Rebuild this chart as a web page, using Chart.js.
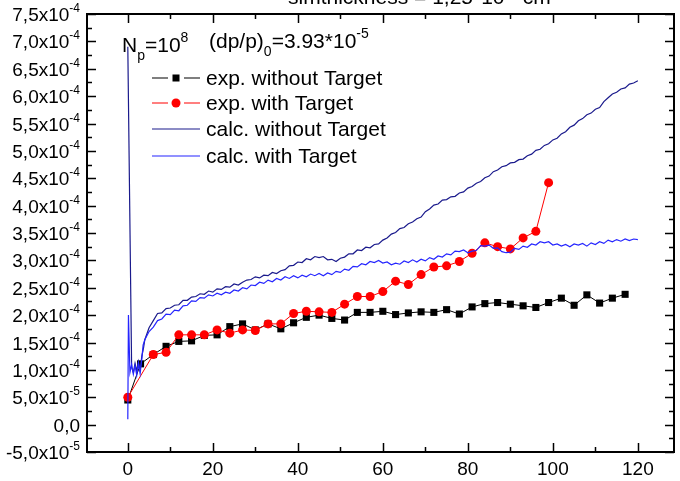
<!DOCTYPE html>
<html>
<head>
<meta charset="utf-8">
<script src="https://cdn.jsdelivr.net/npm/chart.js@4.4.0/dist/chart.umd.min.js"></script>
<style>
  html, body { margin: 0; padding: 0; background: #fff; }
  #wrap { width: 680px; height: 481px; }
</style>
</head>
<body>
<div id="wrap"><canvas id="beamChart" width="680" height="481"></canvas></div>
<script>
// measured points, every 3 units
const expNoTargetX = [0, 3, 6, 9, 12, 15, 18, 21, 24, 27, 30, 33, 36, 39, 42, 45, 48, 51, 54, 57,
  60, 63, 66, 69, 72, 75, 78, 81, 84, 87, 90, 93, 96, 99, 102, 105, 108, 111, 114, 117];
const expNoTargetY = [4.5e-5, 1.11e-4, 1.28e-4, 1.43e-4, 1.52e-4, 1.53e-4, 1.63e-4, 1.64e-4, 1.79e-4, 1.84e-4,
  1.73e-4, 1.84e-4, 1.75e-4, 1.86e-4, 1.96e-4, 2.00e-4, 1.94e-4, 1.91e-4, 2.05e-4, 2.05e-4,
  2.07e-4, 2.01e-4, 2.04e-4, 2.06e-4, 2.05e-4, 2.10e-4, 2.02e-4, 2.15e-4, 2.21e-4, 2.23e-4,
  2.20e-4, 2.17e-4, 2.14e-4, 2.23e-4, 2.31e-4, 2.18e-4, 2.37e-4, 2.22e-4, 2.31e-4, 2.38e-4];

const expTargetX = [0, 6, 9, 12, 15, 18, 21, 24, 27, 30, 33, 36, 39, 42, 45, 48, 51, 54, 57,
  60, 63, 66, 69, 72, 75, 78, 81, 84, 87, 90, 93, 96, 99];
const expTargetY = [5.0e-5, 1.28e-4, 1.32e-4, 1.64e-4, 1.64e-4, 1.64e-4, 1.73e-4, 1.67e-4, 1.73e-4, 1.72e-4,
  1.84e-4, 1.84e-4, 2.03e-4, 2.07e-4, 2.06e-4, 2.05e-4, 2.20e-4, 2.34e-4, 2.34e-4,
  2.43e-4, 2.62e-4, 2.56e-4, 2.74e-4, 2.88e-4, 2.90e-4, 2.98e-4, 3.13e-4, 3.32e-4, 3.25e-4,
  3.21e-4, 3.41e-4, 3.53e-4, 4.42e-4];

// simulation, in units of 1e-4
const CALC_UNIT = 1e-4;
// first few turns (injection spike and settling)
const calcNoTargetStartX = [0, 0.9, 1.3, 1.7, 2.1, 2.5, 2.9, 3.3, 3.7];
const calcNoTargetStartY = [6.9, 1.05, 0.95, 1.12, 0.98, 1.15, 1.0, 1.25, 1.40];
const calcTargetStartX = [0, 0.15, 0.5, 0.9, 1.3, 1.7, 2.1, 2.5, 2.9, 3.3, 3.6];
const calcTargetStartY = [0.10, 2.0, 0.95, 1.10, 0.92, 1.08, 0.90, 1.12, 0.93, 1.20, 1.45];
// then one value per unit, x = 4 ... 120
const calcGridX = Array.from({ length: 117 }, (_, i) => 4 + i);
const calcNoTargetY = [
  1.55, 1.77, 1.90, 2.03, 2.04, 2.12, 2.13, 2.18, 2.19, 2.27, 2.27, 2.33, 2.34, 2.39, 2.38, 2.44, 2.42,
  2.48, 2.47, 2.52, 2.51, 2.57, 2.55, 2.60, 2.64, 2.65, 2.70, 2.68, 2.73, 2.72, 2.78, 2.76, 2.81,
  2.83, 2.90, 2.91, 2.97, 2.96, 3.03, 3.01, 3.07, 3.05, 3.07, 3.01, 3.02, 2.98, 3.04, 3.06, 3.12,
  3.12, 3.19, 3.18, 3.24, 3.23, 3.29, 3.30, 3.37, 3.41, 3.48, 3.51, 3.58, 3.60, 3.67, 3.70, 3.76,
  3.79, 3.89, 3.94, 4.01, 4.03, 4.10, 4.11, 4.16, 4.17, 4.23, 4.25, 4.32, 4.35, 4.41, 4.44, 4.51,
  4.54, 4.62, 4.65, 4.71, 4.73, 4.78, 4.79, 4.84, 4.85, 4.91, 4.94, 5.01, 5.03, 5.10, 5.13, 5.20,
  5.23, 5.31, 5.35, 5.43, 5.47, 5.55, 5.59, 5.66, 5.69, 5.76, 5.79, 5.90, 5.97, 6.04, 6.07, 6.13,
  6.15, 6.22, 6.24, 6.28];
const calcTargetY = [
  1.55, 1.70, 1.78, 1.90, 1.93, 2.02, 2.01, 2.09, 2.08, 2.17, 2.18, 2.26, 2.25, 2.32, 2.31, 2.37, 2.35,
  2.40, 2.37, 2.42, 2.40, 2.46, 2.44, 2.50, 2.48, 2.55, 2.54, 2.60, 2.58, 2.64, 2.61, 2.67, 2.64,
  2.70, 2.67, 2.72, 2.68, 2.73, 2.70, 2.75, 2.72, 2.76, 2.72, 2.77, 2.74, 2.80, 2.78, 2.84, 2.82,
  2.89, 2.88, 2.94, 2.92, 2.98, 2.96, 3.00, 2.95, 2.97, 2.92, 2.95, 2.93, 2.99, 2.96, 3.01, 2.97,
  3.02, 2.99, 3.05, 3.02, 3.08, 3.06, 3.12, 3.10, 3.17, 3.16, 3.19, 3.14, 3.17, 3.18, 3.27, 3.26,
  3.28, 3.22, 3.23, 3.16, 3.14, 3.15, 3.22, 3.20, 3.26, 3.24, 3.30, 3.28, 3.34, 3.32, 3.34, 3.28,
  3.30, 3.26, 3.29, 3.25, 3.30, 3.28, 3.31, 3.26, 3.32, 3.29, 3.34, 3.31, 3.37, 3.34, 3.38, 3.35,
  3.39, 3.36, 3.39, 3.38];

const seriesNames = ['exp. without Target', 'exp. with Target', 'calc. without Target', 'calc. with Target'];
const xTicks = [0, 20, 40, 60, 80, 100, 120];

const FONT = '"Liberation Sans", Arial, sans-serif';

function pts(xs, ys, unit) {
  const u = unit || 1;
  return xs.map((x, i) => ({ x: x, y: ys[i] * u }));
}

// draws text pieces one after another; off = baseline shift, sz = font size
function drawRich(ctx, parts, x, y, align) {
  let w = 0;
  parts.forEach(p => { ctx.font = p.sz + 'px ' + FONT; w += ctx.measureText(p.t).width; });
  let cx = align === 'right' ? x - w : (align === 'center' ? x - w / 2 : x);
  ctx.textAlign = 'left';
  ctx.textBaseline = 'alphabetic';
  parts.forEach(p => {
    ctx.font = p.sz + 'px ' + FONT;
    ctx.fillText(p.t, cx, y + (p.off || 0));
    cx += ctx.measureText(p.t).width;
  });
}

function sciParts(v) {
  if (Math.abs(v) < 1e-12) return [{ t: '0,0', sz: 19 }];
  const e = Math.floor(Math.log10(Math.abs(v)) + 1e-9);
  const m = (v / Math.pow(10, e)).toFixed(1).replace('.', ',');
  return [{ t: m + 'x10', sz: 19 }, { t: String(e), sz: 12, off: -9 }];
}

const axesFrame = {
  id: 'axesFrame',
  afterDatasetsDraw(chart) {
    const ctx = chart.ctx;
    const a = chart.chartArea;
    const xs = chart.scales.x, ys = chart.scales.y;
    ctx.save();
    ctx.strokeStyle = '#000';
    ctx.fillStyle = '#000';

    // frame
    ctx.lineWidth = 2;
    ctx.strokeRect(a.left, a.top, a.right - a.left, a.bottom - a.top);

    // x ticks, inward on bottom and top
    ctx.lineWidth = 1.5;
    for (let v = -10; v <= 130; v += 10) {
      if (v < xs.min || v > xs.max) continue;
      const px = Math.round(xs.getPixelForValue(v)) + 0.5;
      const len = v % 20 === 0 ? 9 : 5;
      ctx.beginPath();
      ctx.moveTo(px, a.bottom); ctx.lineTo(px, a.bottom - len);
      ctx.moveTo(px, a.top); ctx.lineTo(px, a.top + len);
      ctx.stroke();
    }
    // y ticks, inward on left and right
    for (let k = -2; k <= 30; k++) {
      const v = k * 2.5e-5;
      if (v < ys.min - 1e-12 || v > ys.max + 1e-12) continue;
      const py = Math.round(ys.getPixelForValue(v)) + 0.5;
      const len = k % 2 === 0 ? 9 : 5;
      ctx.beginPath();
      ctx.moveTo(a.left, py); ctx.lineTo(a.left + len, py);
      ctx.moveTo(a.right, py); ctx.lineTo(a.right - len, py);
      ctx.stroke();
    }

    // tick labels
    xTicks.forEach(v => {
      ctx.font = '19px ' + FONT;
      ctx.textAlign = 'center';
      ctx.textBaseline = 'alphabetic';
      ctx.fillText(String(v), xs.getPixelForValue(v), 475);
    });
    for (let k = -1; k <= 15; k++) {
      const v = k * 5e-5;
      drawRich(ctx, sciParts(v), 80, ys.getPixelForValue(v) + 7, 'right');
    }

    // legend
    const rows = [78, 103, 129, 156];
    const cols = ['#000', '#ff0000', '#1a1a8c', '#2525ff'];
    rows.forEach((ry, i) => {
      ctx.strokeStyle = cols[i];
      ctx.lineWidth = 1.2;
      ctx.beginPath();
      if (i < 2) {
        ctx.moveTo(152, ry); ctx.lineTo(168, ry);
        ctx.moveTo(184, ry); ctx.lineTo(200, ry);
      } else {
        ctx.moveTo(152, ry); ctx.lineTo(200, ry);
      }
      ctx.stroke();
      ctx.fillStyle = cols[i];
      if (i === 0) ctx.fillRect(172.5, ry - 3.5, 7, 7);
      if (i === 1) { ctx.beginPath(); ctx.arc(176, ry, 4.5, 0, Math.PI * 2); ctx.fill(); }
      ctx.fillStyle = '#000';
      drawRich(ctx, [{ t: seriesNames[i], sz: 21 }], 206, ry + 7, 'left');
    });

    // beam parameters
    drawRich(ctx, [
      { t: 'N', sz: 21 }, { t: 'p', sz: 14, off: 8 }, { t: '=10', sz: 21 }, { t: '8', sz: 14, off: -10 }
    ], 122, 52, 'left');
    drawRich(ctx, [
      { t: '(dp/p)', sz: 21 }, { t: '0', sz: 14, off: 8 }, { t: '=3.93*10', sz: 21 }, { t: '-5', sz: 14, off: -10 }
    ], 209, 48, 'left');

    // heading, partly outside the canvas
    drawRich(ctx, [
      { t: 'simthickness = 1,25*10', sz: 21 }, { t: '-5', sz: 14, off: -10 }, { t: ' cm', sz: 21 }
    ], 288, 4, 'left');

    ctx.restore();
  }
};

new Chart(document.getElementById('beamChart'), {
  type: 'line',
  data: {
    datasets: [
      {
        label: seriesNames[0], data: pts(expNoTargetX, expNoTargetY),
        borderColor: '#000', backgroundColor: '#000', borderWidth: 1,
        pointStyle: 'rect', pointRadius: 5, pointBorderWidth: 0, order: 4
      },
      {
        label: seriesNames[1], data: pts(expTargetX, expTargetY),
        borderColor: '#ff0000', backgroundColor: '#ff0000', borderWidth: 1,
        pointStyle: 'circle', pointRadius: 4.5, pointBorderWidth: 0, order: 3
      },
      {
        label: seriesNames[2],
        data: pts(calcNoTargetStartX, calcNoTargetStartY, CALC_UNIT).concat(pts(calcGridX, calcNoTargetY, CALC_UNIT)),
        borderColor: '#1a1a8c', borderWidth: 1.2, pointRadius: 0, order: 2
      },
      {
        label: seriesNames[3],
        data: pts(calcTargetStartX, calcTargetStartY, CALC_UNIT).concat(pts(calcGridX, calcTargetY, CALC_UNIT)),
        borderColor: '#2525ff', borderWidth: 1.2, pointRadius: 0, order: 1
      }
    ]
  },
  options: {
    responsive: false,
    animation: false,
    devicePixelRatio: 1,
    layout: { padding: { left: 87, right: 6, top: 14, bottom: 29 } },
    plugins: { legend: { display: false }, tooltip: { enabled: false } },
    elements: { line: { tension: 0 } },
    scales: {
      x: { type: 'linear', min: -9.6, max: 128.5, display: false },
      y: { type: 'linear', min: -5e-5, max: 7.5e-4, display: false }
    }
  },
  plugins: [axesFrame]
});
</script>
</body>
</html>
